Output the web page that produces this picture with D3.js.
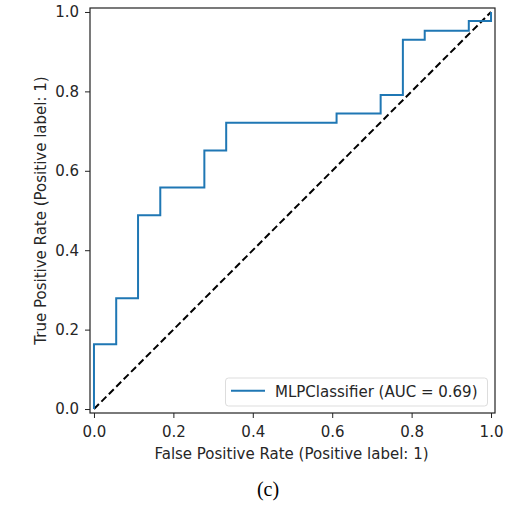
<!DOCTYPE html>
<html>
<head>
<meta charset="utf-8">
<script src="https://cdn.jsdelivr.net/npm/d3@7"></script>
<style>
  body { margin: 0; background: #fff; }
  text { font-family: "DejaVu Sans", sans-serif; fill: #262626; }
</style>
</head>
<body>
<div id="graph"></div>
<script>
// ROC points
var fpr = [0, 0, 0.056, 0.056, 0.111, 0.111, 0.167, 0.167, 0.278, 0.278, 0.333, 0.333,
           0.611, 0.611, 0.722, 0.722, 0.778, 0.778, 0.833, 0.833, 0.944, 0.944, 1.0, 1.0];
var tpr = [0, 0.163, 0.163, 0.279, 0.279, 0.488, 0.488, 0.558, 0.558, 0.651, 0.651, 0.721,
           0.721, 0.744, 0.744, 0.791, 0.791, 0.930, 0.930, 0.953, 0.953, 0.977, 0.977, 1.0];
var chanceX = [0, 1];
var chanceY = [0, 1];
var tickValues = [0, 0.2, 0.4, 0.6, 0.8, 1.0];
var legendLabel = "MLPClassifier (AUC = 0.69)";
var xTitle = "False Positive Rate (Positive label: 1)";
var yTitle = "True Positive Rate (Positive label: 1)";
var caption = "(c)";

var svgWidth = 518, svgHeight = 508;
var margin = {top: 8, left: 90};
var boxSize = 405;
var fontSize = "15px";

var svg = d3.select("#graph").append("svg")
  .attr("width", svgWidth)
  .attr("height", svgHeight);

var chartGroup = svg.append("g")
  .attr("transform", `translate(${margin.left}, ${margin.top})`);

var x = d3.scaleLinear().domain([-0.01, 1.01]).range([0, boxSize]);
var y = d3.scaleLinear().domain([-0.01, 1.01]).range([boxSize, 0]);

// chance line
chartGroup.append("path")
  .datum(d3.zip(chanceX, chanceY))
  .attr("d", d3.line().x(d => x(d[0])).y(d => y(d[1])))
  .attr("fill", "none")
  .attr("stroke", "#000")
  .attr("stroke-width", 2)
  .attr("stroke-dasharray", "7,3.5");

// roc curve
chartGroup.append("path")
  .datum(d3.zip(fpr, tpr))
  .attr("d", d3.line().x(d => x(d[0])).y(d => y(d[1])))
  .attr("fill", "none")
  .attr("stroke", "#1f77b4")
  .attr("stroke-width", 2)
  .attr("stroke-linejoin", "miter");

// axes
var xAxis = chartGroup.append("g")
  .attr("transform", `translate(0, ${boxSize})`)
  .call(d3.axisBottom(x).tickValues(tickValues).tickFormat(d3.format(".1f")).tickSize(5).tickPadding(8));

var yAxis = chartGroup.append("g")
  .call(d3.axisLeft(y).tickValues(tickValues).tickFormat(d3.format(".1f")).tickSize(5).tickPadding(6));

[xAxis, yAxis].forEach(function(ax) {
  ax.select(".domain").remove();
  ax.selectAll("line").attr("stroke", "#222").attr("stroke-width", 1);
  ax.selectAll("text").style("font-size", fontSize).style("font-family", "DejaVu Sans").attr("fill", "#262626");
});

// frame
chartGroup.append("rect")
  .attr("x", 0).attr("y", 0)
  .attr("width", boxSize).attr("height", boxSize)
  .attr("fill", "none")
  .attr("stroke", "#222")
  .attr("stroke-width", 1.2);

// legend
var legend = chartGroup.append("g")
  .attr("transform", `translate(135.5, 370)`);

legend.append("rect")
  .attr("width", 262).attr("height", 28)
  .attr("rx", 3)
  .attr("fill", "#fff")
  .attr("fill-opacity", 0.8)
  .attr("stroke", "#ddd");

legend.append("line")
  .attr("x1", 5.5).attr("x2", 39.5)
  .attr("y1", 12.7).attr("y2", 12.7)
  .attr("stroke", "#1f77b4")
  .attr("stroke-width", 2);

legend.append("text")
  .attr("x", 49.5).attr("y", 18.7)
  .style("font-size", fontSize)
  .text(legendLabel);

// axis titles
svg.append("text")
  .attr("x", margin.left + boxSize / 2 - 1)
  .attr("y", 459)
  .attr("text-anchor", "middle")
  .style("font-size", fontSize)
  .text(xTitle);

svg.append("text")
  .attr("transform", `translate(45.5, ${margin.top + boxSize / 2}) rotate(-90)`)
  .attr("text-anchor", "middle")
  .style("font-size", fontSize)
  .text(yTitle);

svg.append("text")
  .attr("x", 268)
  .attr("y", 496)
  .attr("text-anchor", "middle")
  .style("font-family", "Liberation Serif, serif")
  .style("font-size", "20px")
  .style("fill", "#000")
  .text(caption);
</script>
</body>
</html>
